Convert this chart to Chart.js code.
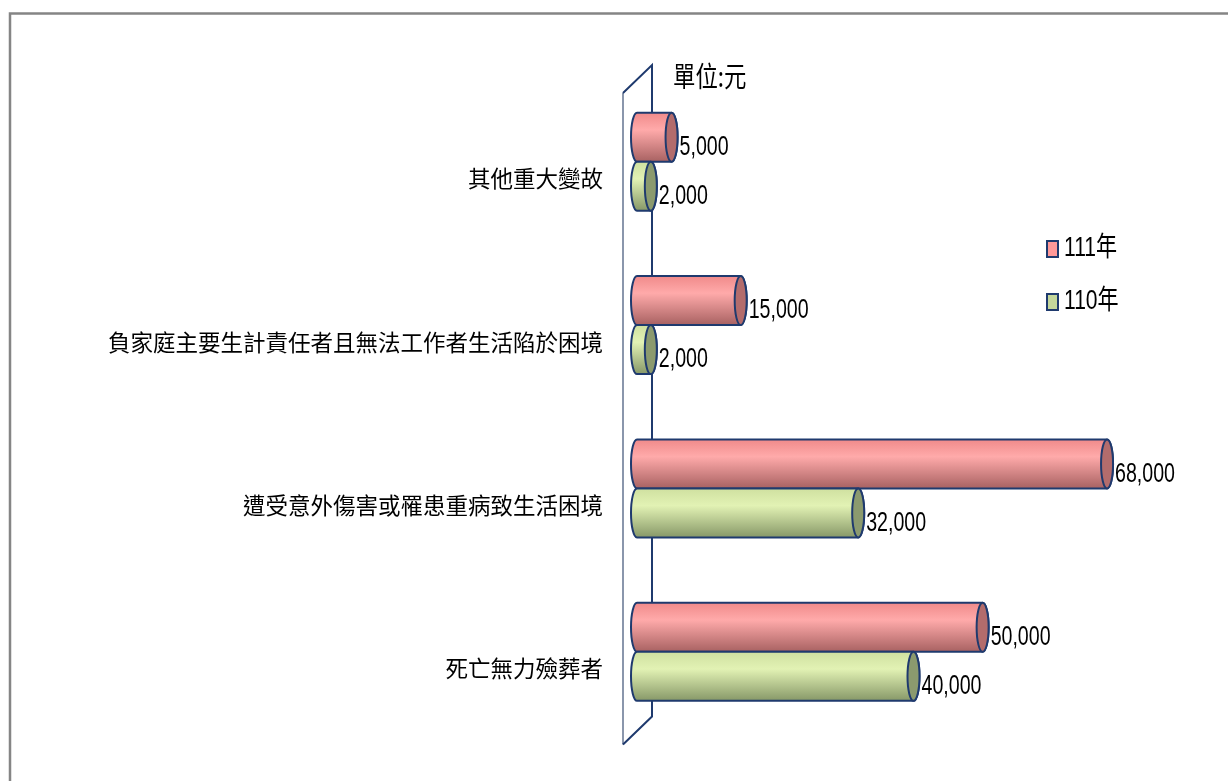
<!DOCTYPE html>
<html>
<head>
<meta charset="utf-8">
<script src="https://cdn.jsdelivr.net/npm/chart.js@4.4.1/dist/chart.umd.min.js"></script>
<style>
  html, body { margin: 0; padding: 0; background: #fff; overflow: hidden; }
  canvas { display: block; }
</style>
</head>
<body>
<canvas id="chart" width="1228" height="781"></canvas>
<script>
// ---- data ----
const categories = [
  '其他重大變故',
  '負家庭主要生計責任者且無法工作者生活陷於困境',
  '遭受意外傷害或罹患重病致生活困境',
  '死亡無力殮葬者',
];
const seriesNames = ['111年', '110年'];
const values111 = [5000, 15000, 68000, 50000];
const values110 = [2000, 2000, 32000, 40000];
const unitLabel = '單位:元';

// ---- look ----
const NAVY = '#1f3a6e';
const CYL = [
  { top: '#f08a8a', light: '#ffaaaa', dark: '#a86262', face: '#b36c6c', key: '#ff9999' },
  { top: '#cfe0a0', light: '#e2f2b4', dark: '#879868', face: '#8b9a6e', key: '#c4d79b' },
];

function squeezedText(ctx, str, x, y, size, sx, family) {
  ctx.save();
  ctx.font = `${size}px ${family}`;
  ctx.textBaseline = 'middle';
  ctx.textAlign = 'left';
  ctx.fillStyle = '#000';
  ctx.translate(x, y);
  ctx.scale(sx, 1);
  ctx.fillText(str, 0, 0);
  ctx.restore();
}

function cylinder(ctx, x0, x1, yTop, yBot, c) {
  const cy = (yTop + yBot) / 2, ry = (yBot - yTop) / 2, rx = 6;
  const g = ctx.createLinearGradient(0, yTop, 0, yBot);
  g.addColorStop(0, c.top);
  g.addColorStop(0.35, c.light);
  g.addColorStop(1, c.dark);
  ctx.save();
  ctx.lineWidth = 2;
  ctx.strokeStyle = NAVY;
  ctx.beginPath();
  ctx.moveTo(x0, yTop);
  ctx.lineTo(x1, yTop);
  ctx.ellipse(x1, cy, rx, ry, 0, -Math.PI / 2, Math.PI / 2, false);
  ctx.lineTo(x0, yBot);
  ctx.ellipse(x0, cy, rx, ry, 0, Math.PI / 2, Math.PI * 1.5, false);
  ctx.closePath();
  ctx.fillStyle = g;
  ctx.fill();
  ctx.stroke();
  ctx.beginPath();
  ctx.ellipse(x1, cy, rx, ry, 0, 0, Math.PI * 2);
  ctx.fillStyle = c.face;
  ctx.fill();
  ctx.stroke();
  ctx.restore();
}

const decor = {
  id: 'decor',
  beforeDraw(chart) {
    const ctx = chart.ctx;
    ctx.save();
    ctx.fillStyle = '#fff';
    ctx.fillRect(0, 0, chart.width, chart.height);
    ctx.strokeStyle = '#858585';
    ctx.lineWidth = 2.5;
    ctx.beginPath();
    ctx.moveTo(10, chart.height);
    ctx.lineTo(10, 13.5);
    ctx.lineTo(chart.width, 13.5);
    ctx.stroke();
    ctx.restore();
  },
  beforeDatasetsDraw(chart) {
    // 3D wall behind the category axis
    const ctx = chart.ctx, a = chart.chartArea;
    const x0 = chart.scales.x.getPixelForValue(0);
    ctx.save();
    ctx.lineWidth = 2;
    ctx.strokeStyle = '#8a96ac';
    ctx.beginPath();
    ctx.moveTo(x0 - 14, a.top + 13);
    ctx.lineTo(x0 - 14, a.bottom + 11);
    ctx.stroke();
    ctx.strokeStyle = NAVY;
    ctx.beginPath();
    ctx.moveTo(x0 - 14, a.top + 13);
    ctx.lineTo(x0 + 15, a.top - 15);
    ctx.lineTo(x0 + 15, a.bottom - 17);
    ctx.lineTo(x0 - 14, a.bottom + 11);
    ctx.stroke();
    ctx.restore();
  },
  afterDatasetsDraw(chart) {
    const ctx = chart.ctx;
    chart.data.datasets.forEach((ds, i) => {
      chart.getDatasetMeta(i).data.forEach((el, j) => {
        const h = el.height;
        cylinder(ctx, el.base, el.x, el.y - h / 2, el.y + h / 2, CYL[i]);
        squeezedText(ctx, ds.data[j].toLocaleString('en-US'), el.x + 8, el.y + 10, 28, 0.7, "'Liberation Sans', sans-serif");
      });
    });
  },
  afterDraw(chart) {
    const ctx = chart.ctx;
    squeezedText(ctx, unitLabel, 673, 76, 28, 0.8, "'Noto Sans CJK TC', sans-serif");
    chart.data.datasets.forEach((ds, i) => {
      const y = 249 + i * 53;
      ctx.save();
      ctx.fillStyle = CYL[i].key;
      ctx.strokeStyle = NAVY;
      ctx.lineWidth = 2;
      ctx.fillRect(1047, y - 8, 11, 16);
      ctx.strokeRect(1047, y - 8, 11, 16);
      ctx.restore();
      squeezedText(ctx, ds.label, 1064, y, 27, 0.78, "'Liberation Sans', 'Noto Sans CJK TC', sans-serif");
    });
  },
};

new Chart(document.getElementById('chart'), {
  type: 'bar',
  data: {
    labels: categories,
    datasets: [
      { label: seriesNames[0], data: values111 },
      { label: seriesNames[1], data: values110 },
    ],
  },
  options: {
    indexAxis: 'y',
    responsive: false,
    animation: false,
    devicePixelRatio: 1,
    backgroundColor: 'rgba(0,0,0,0)',
    borderWidth: 0,
    categoryPercentage: 0.6,
    barPercentage: 1.0,
    layout: { padding: { left: 0, right: 38, top: 80, bottom: 47 } },
    plugins: { legend: { display: false }, tooltip: { enabled: false } },
    scales: {
      x: { display: false, min: 0, max: 80000 },
      y: {
        afterFit: s => { s.width = 637; },
        grid: { display: false, drawTicks: false },
        border: { display: false },
        ticks: {
          autoSkip: false,
          padding: 34,
          labelOffset: 17,
          color: '#000',
          font: { family: "'Noto Sans CJK TC', sans-serif", size: 22.5 },
        },
      },
    },
  },
  plugins: [decor],
});
</script>
</body>
</html>
